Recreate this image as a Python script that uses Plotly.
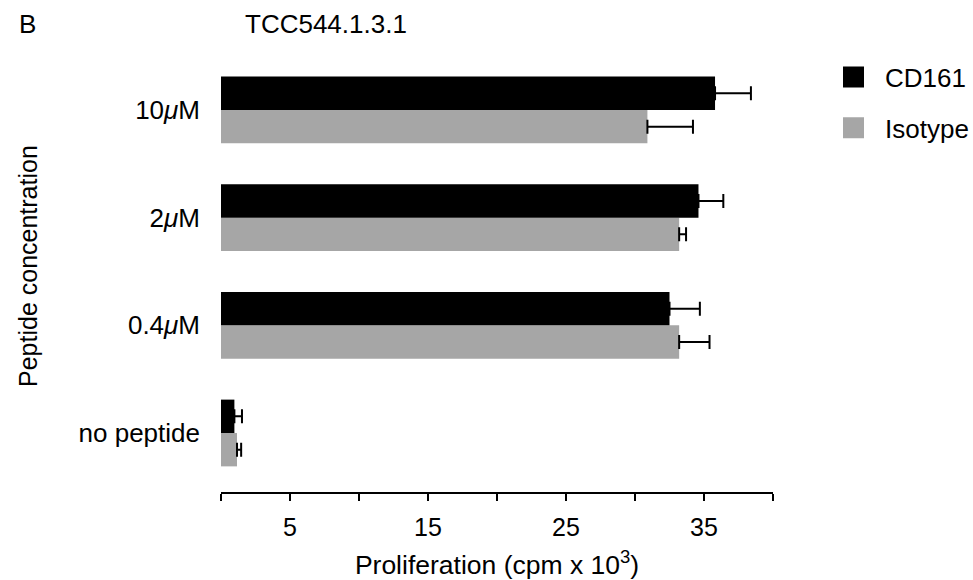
import plotly.graph_objects as go

categories = ["no peptide", "0.4<i>μ</i>M", "2<i>μ</i>M", "10<i>μ</i>M"]
cd161 = [0.97, 32.5, 34.6, 35.8]
cd161_err = [0.55, 2.2, 1.8, 2.6]
isotype = [1.16, 33.2, 33.2, 30.9]
isotype_err = [0.3, 2.2, 0.5, 3.3]
x_tickvals = [5, 15, 25, 35]
x_ticklabels = ["5", "15", "25", "35"]

FONT = "Liberation Sans, Arial, Helvetica, sans-serif"
BLACK = "#000000"
GREY = "#a6a6a6"

fig = go.Figure()
# Isotype first so that CD161 sits above it within each group
fig.add_trace(go.Bar(
    y=categories, x=isotype, orientation="h", name="Isotype",
    marker=dict(color=GREY, line=dict(width=0)), showlegend=False,
    error_x=dict(type="data", array=isotype_err, arrayminus=[0]*len(isotype_err),
                 symmetric=False, color=BLACK, thickness=2, width=7),
))
fig.add_trace(go.Bar(
    y=categories, x=cd161, orientation="h", name="CD161",
    marker=dict(color=BLACK, line=dict(width=0)), showlegend=False,
    error_x=dict(type="data", array=cd161_err, arrayminus=[0]*len(cd161_err),
                 symmetric=False, color=BLACK, thickness=2, width=7),
))
# legend entries
for name, col, grp in [("CD161", BLACK, "a"), ("Isotype", GREY, "b")]:
    fig.add_trace(go.Scatter(
        x=[None], y=[None], mode="markers", name=name, legendgroup=grp,
        marker=dict(symbol="square", size=16, color=col, line=dict(color=col, width=5)),
    ))

fig.update_layout(
    width=973, height=580,
    margin=dict(l=221, r=200, t=60, b=88, autoexpand=False),
    paper_bgcolor="white", plot_bgcolor="white",
    font=dict(family=FONT, size=26, color=BLACK),
    barmode="group", bargap=0.38, bargroupgap=0,
    showlegend=True,
    legend=dict(x=1.0888, xanchor="left", y=1.015, yanchor="top",
                font=dict(size=26), itemwidth=53, tracegroupgap=14,
                traceorder="grouped", bgcolor="rgba(0,0,0,0)"),
    xaxis=dict(range=[0, 40], tickvals=x_tickvals, ticktext=x_ticklabels,
               tickfont=dict(size=25), ticklabelstandoff=5,
               showgrid=False, zeroline=False, showline=True, linecolor=BLACK,
               linewidth=2, ticks="outside", ticklen=7, tickwidth=2, tickcolor=BLACK,
               minor=dict(tick0=0, dtick=5, ticks="outside", ticklen=7, tickwidth=2,
                          tickcolor=BLACK, showgrid=False),
               title=dict(text="Proliferation (cpm x 10<sup>3</sup>)", standoff=34,
                          font=dict(size=26.5))),
    yaxis=dict(type="category", categoryorder="array", categoryarray=categories,
               range=[-0.548, 3.464], showgrid=False, zeroline=False, showline=False,
               ticks="", ticklabelstandoff=20, tickfont=dict(size=26)),
    annotations=[
        dict(text="Peptide concentration", textangle=-90, xref="paper", yref="paper",
             x=(28 - 221) / 552, y=(492 - 266) / 432, xanchor="center", yanchor="middle",
             showarrow=False, font=dict(size=25)),
        dict(text="B", xref="paper", yref="paper", x=(17 - 221) / 552, y=(492 - 24) / 432,
             xanchor="left", yanchor="middle", showarrow=False, font=dict(size=26)),
        dict(text="TCC544.1.3.1", xref="paper", yref="paper", x=(243 - 221) / 552,
             y=(492 - 24) / 432, xanchor="left", yanchor="middle", showarrow=False,
             font=dict(size=26)),
    ],
)

fig.write_html("out.html")
